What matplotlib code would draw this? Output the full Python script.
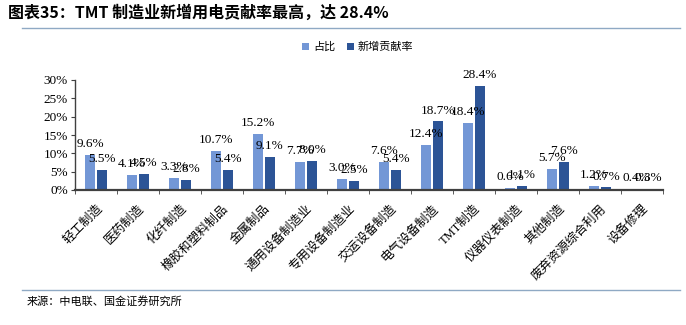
import matplotlib
matplotlib.use("Agg")
import matplotlib.pyplot as plt
import numpy as np
from matplotlib.ticker import FixedLocator

plt.rcParams['font.family'] = ['Liberation Serif', 'Noto Sans CJK SC', 'DejaVu Sans']

categories = ["轻工制造", "医药制造", "化纤制造", "橡胶和塑料制品", "金属制品", "通用设备制造业",
              "专用设备制造业", "交运设备制造", "电气设备制造", "TMT制造", "仪器仪表制造",
              "其他制造", "废弃资源综合利用", "设备修理"]
share = [9.6, 4.1, 3.3, 10.7, 15.2, 7.7, 3.0, 7.6, 12.4, 18.4, 0.6, 5.7, 1.2, 0.4]
contrib = [5.5, 4.5, 2.8, 5.4, 9.1, 8.0, 2.5, 5.4, 18.7, 28.4, 1.1, 7.6, 0.7, 0.3]
series_names = ["占比", "新增贡献率"]
yticks = [0, 5, 10, 15, 20, 25, 30]

c1 = "#7397d6"
c2 = "#2c5496"

fig = plt.figure(figsize=(6.86, 3.25), dpi=100)
ax = fig.add_axes([75/686, 1-190/325, 588/686, 110/325])

x = np.arange(len(categories))
w = 0.255
g = 0.015
b1 = ax.bar(x - w/2 - g, share, w, color=c1, label=series_names[0])
b2 = ax.bar(x + w/2 + g, contrib, w, color=c2, label=series_names[1])

for xi, v in zip(x, share):
    ax.text(xi - w/2 - g, v + 1.3, f"{v:.1f}%", ha='center', va='bottom', fontsize=9.5)
for xi, v in zip(x, contrib):
    ax.text(xi + w/2 + g, v + 1.3, f"{v:.1f}%", ha='center', va='bottom', fontsize=9.5)

ax.set_xlim(-0.5, len(categories) - 0.5)
ax.set_ylim(0, 30)
ax.set_yticks(yticks)
ax.set_yticklabels([f"{t}%" for t in yticks], fontsize=9.5)
ax.set_xticks(x)
ax.set_xticklabels(categories, rotation=45, ha='right', rotation_mode='anchor',
                   fontsize=9, family=['Liberation Serif', 'Noto Sans CJK SC'])
ax.tick_params(axis='x', length=0, pad=9)
ax.xaxis.set_minor_locator(FixedLocator(np.arange(-0.5, len(categories), 1)))
ax.tick_params(axis='x', which='minor', length=3, color='#404040', direction='out')
ax.tick_params(axis='y', length=3, color='#404040', direction='out', pad=2)

for s in ['top', 'right']:
    ax.spines[s].set_visible(False)
ax.spines['left'].set_color('#404040')
ax.spines['bottom'].set_color('#404040')
ax.spines['bottom'].set_linewidth(1.6)
ax.spines['left'].set_linewidth(1.0)

leg = fig.legend(handles=[b1, b2], loc='center', bbox_to_anchor=(358/686, 1-47/325),
                 ncol=2, frameon=False, handlelength=0.6, handleheight=0.6,
                 handletextpad=0.4, columnspacing=1.0, prop={'family': ['Noto Sans CJK SC'], 'size': 8})

fig.text(8/686, 1-13/325, "图表35：TMT 制造业新增用电贡献率最高，达 28.4%", fontsize=11.5,
         fontweight='bold', family=['Noto Sans CJK SC'], va='center', ha='left')
fig.add_artist(plt.Line2D([22/686, 680/686], [1-28/325, 1-28/325], color='#8fa9c4', lw=1.0))
fig.add_artist(plt.Line2D([22/686, 680/686], [1-290/325, 1-290/325], color='#8fa9c4', lw=1.0))
fig.text(27/686, 1-301/325, "来源：中电联、国金证券研究所", fontsize=8,
         family=['Noto Sans CJK SC'], va='center', ha='left')

fig.savefig("out.png", dpi=100)
